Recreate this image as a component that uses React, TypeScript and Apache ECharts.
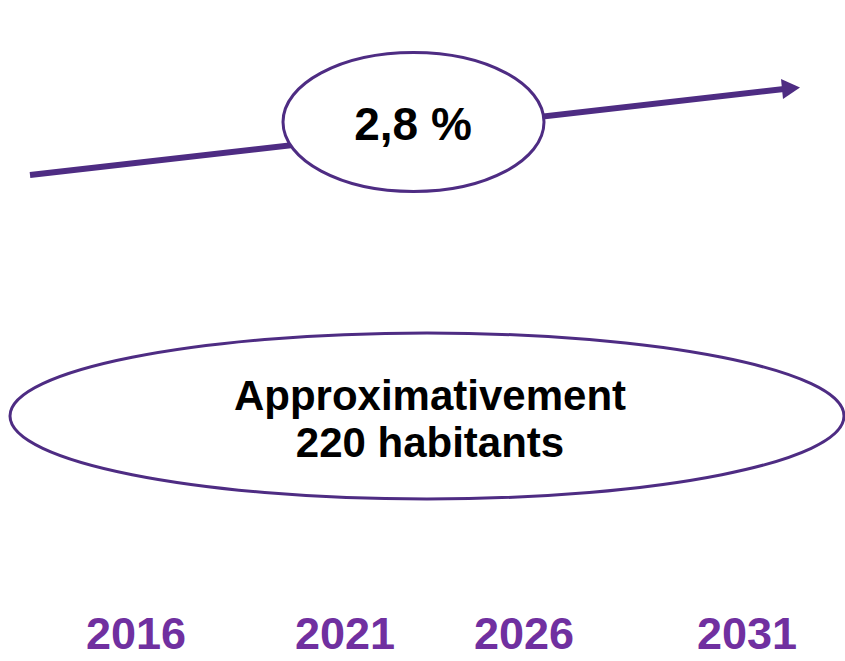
import React, { useEffect, useRef } from "react";
import * as echarts from "echarts";

const years = ["2016", "2021", "2026", "2031"];
const growthLabel = "2,8 %";
const populationLabel = ["Approximativement", "220 habitants"];

// layout (pixel positions)
const yearX = [136, 345, 524, 747];
const W = 845;
const H = 661;

export default function App() {
  const ref = useRef<HTMLDivElement>(null);
  useEffect(() => {
    document.body.style.margin = "0";
    if (!ref.current) return;
    const chart = echarts.init(ref.current, null, { renderer: "svg" });
    const lineColor = "#4E2C83";
    const purple = "#7030A0";
    const graphic: any[] = [
      {
        type: "line",
        shape: { x1: 30, y1: 175, x2: 784, y2: 89 },
        style: { stroke: lineColor, lineWidth: 6 },
      },
      {
        type: "polygon",
        shape: { points: [[781, 79], [800, 87.5], [783, 99]] },
        style: { fill: lineColor },
      },
      {
        type: "ellipse",
        shape: { cx: 413.5, cy: 122, rx: 130.5, ry: 69.5 },
        style: { fill: "#fff", stroke: lineColor, lineWidth: 3 },
      },
      {
        type: "text",
        x: 413,
        y: 124,
        style: {
          text: growthLabel,
          font: "bold 46px 'Liberation Sans', Arial, sans-serif",
          fill: "#000",
          textAlign: "center",
          textVerticalAlign: "middle",
        },
      },
      {
        type: "ellipse",
        shape: { cx: 427, cy: 416, rx: 417, ry: 83 },
        style: { fill: "#fff", stroke: lineColor, lineWidth: 3 },
      },
      {
        type: "text",
        x: 430,
        y: 419,
        style: {
          text: populationLabel.join("\n"),
          font: "bold 42px 'Liberation Sans', Arial, sans-serif",
          lineHeight: 47,
          fill: "#000",
          textAlign: "center",
          textVerticalAlign: "middle",
        },
      },
      ...years.map((y, i) => ({
        type: "text",
        x: yearX[i],
        y: 633,
        style: {
          text: y,
          font: "bold 45px 'Liberation Sans', Arial, sans-serif",
          fill: purple,
          textAlign: "center",
          textVerticalAlign: "middle",
        },
      })),
    ];
    chart.setOption({
      animation: false,
      backgroundColor: "#fff",
      graphic,
    });
    return () => chart.dispose();
  }, []);
  return <div ref={ref} style={{ width: W, height: H }} />;
}
